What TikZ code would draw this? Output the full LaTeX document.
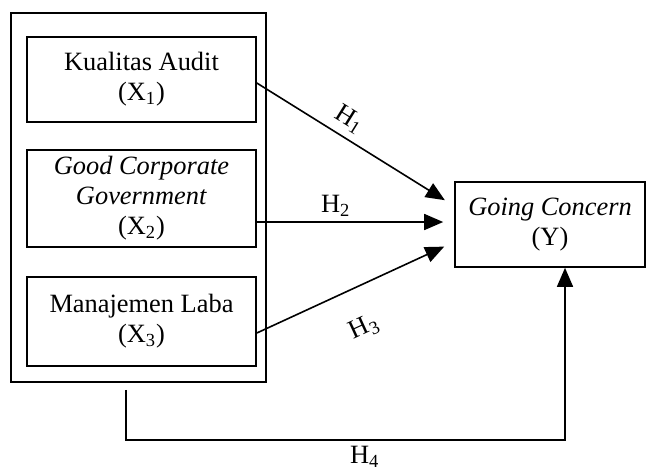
\documentclass[tikz,border=0pt]{standalone}
\usepackage{fontspec}
\setmainfont{Liberation Serif}
\usetikzlibrary{arrows.meta}
\begin{document}
\begin{tikzpicture}[x=0.5pt,y=-0.5pt,
    var/.style = {draw, thick, rectangle, align=center, minimum width=114.5pt, font=\fontsize{13.2}{15}\selectfont},
    arr/.style = {thick, -{Triangle[length=9.5pt,width=8pt]}},
    lbl/.style = {font=\fontsize{13.2}{15}\selectfont}]
    \useasboundingbox (0,0) rectangle (646,468);
    \node[draw, thick, minimum width=127.5pt, minimum height=184.5pt] (grp) at (138.5,197.5) {};
    \node[var, minimum height=42.5pt] (ka) at (141.5,79.5) {Kualitas Audit\\(X\textsubscript{1})};
    \node[var, minimum height=47.5pt] (gcg) at (141.5,198.5) {\textit{Good Corporate}\\\textit{Government}\\(X\textsubscript{2})};
    \node[var, minimum height=44.5pt] (ml) at (141.5,321.5) {Manajemen Laba\\(X\textsubscript{3})};
    \node[var, minimum width=95pt, minimum height=42.5pt] (gc) at (550,224.5) {\textit{Going Concern}\\(Y)};
    \draw[arr, shorten >=5.5pt] ([yshift=-1.75pt]ka.east) -- ([yshift=9.25pt]gc.west)
        node[lbl, sloped, above=0pt, pos=.42] {H\textsubscript{1}};
    \draw[arr, shorten >=5.5pt] ([yshift=-11.75pt]gcg.east) -- ([yshift=1.25pt]gc.west)
        node[lbl, above=-1pt, pos=.40] {H\textsubscript{2}};
    \draw[arr, shorten >=5.5pt] ([yshift=-5.75pt]ml.east) -- ([yshift=-8.75pt]gc.west)
        node[lbl, sloped, below=11pt, pos=.46] {H\textsubscript{3}};
    \draw[arr] ([xshift=-6.25pt,yshift=-3.5pt]grp.south) -- ++(0,50) -| ([xshift=7.5pt]gc.south)
        node[lbl, below=-0.5pt, pos=.272] {H\textsubscript{4}};
\end{tikzpicture}
\end{document}
